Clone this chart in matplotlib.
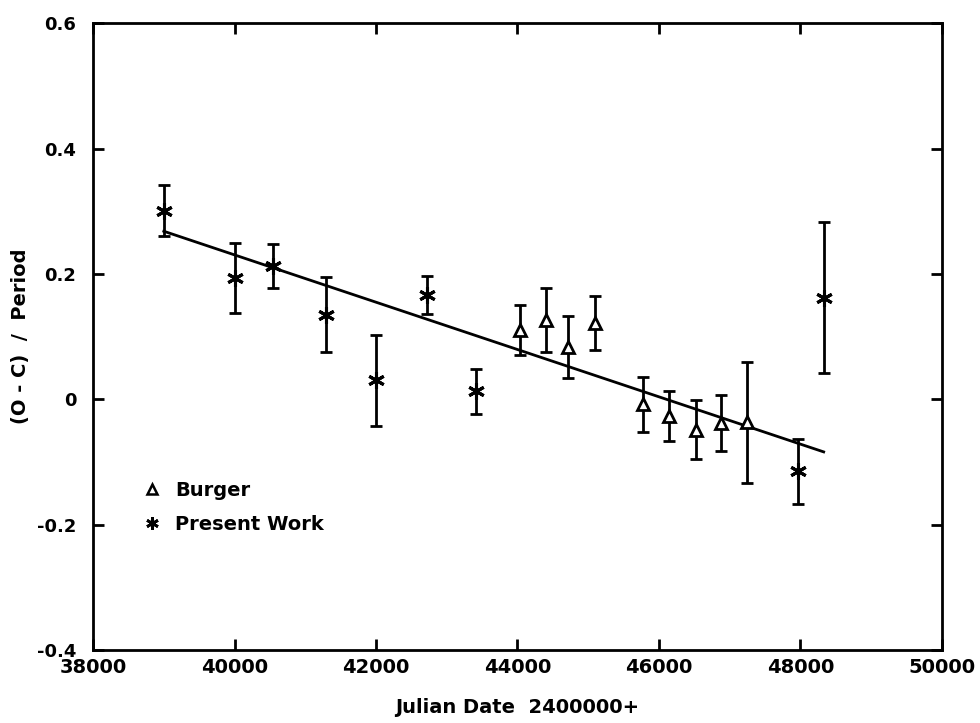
import matplotlib
matplotlib.use("Agg")
import matplotlib.pyplot as plt
from matplotlib.lines import Line2D

plt.rcParams["font.family"] = ["DejaVu Sans"]
plt.rcParams["font.weight"] = "bold"

# Present Work (asterisks)
pw_jd = [39000, 40000, 40550, 41300, 42000, 42720, 43420, 47960, 48330]
pw_oc = [0.301, 0.194, 0.212, 0.135, 0.030, 0.166, 0.013, -0.115, 0.162]
pw_err = [0.040, 0.056, 0.035, 0.060, 0.073, 0.030, 0.036, 0.052, 0.120]

# Burger (open triangles)
bu_jd = [44030, 44410, 44720, 45090, 45780, 46150, 46530, 46880, 47240]
bu_oc = [0.111, 0.127, 0.083, 0.121, -0.008, -0.027, -0.049, -0.038, -0.037]
bu_err = [0.040, 0.051, 0.049, 0.043, 0.044, 0.040, 0.047, 0.044, 0.096]

# linear fit
fit_jd = [39000, 48330]
fit_oc = [0.268, -0.084]

ast = (6, 2, 0)

fig = plt.figure(figsize=(9.8, 7.23), dpi=100)
ax = fig.add_axes([0.095, 0.101, 0.866, 0.867])

ax.plot(fit_jd, fit_oc, color="black", lw=2)

ax.errorbar(bu_jd, bu_oc, yerr=bu_err, fmt="^", mfc="white", mec="black",
            ms=9, mew=2, ecolor="black", elinewidth=2, capsize=4,
            capthick=2)
ax.errorbar(pw_jd, pw_oc, yerr=pw_err, fmt="none", ecolor="black",
            elinewidth=2, capsize=4, capthick=2)
ax.plot(pw_jd, pw_oc, ls="none", marker=ast, ms=12, mew=2.2, color="black")

ax.set_xlim(38000, 50000)
ax.set_ylim(-0.4, 0.6)
ax.set_xticks([38000, 40000, 42000, 44000, 46000, 48000, 50000])
ax.set_yticks([-0.4, -0.2, 0, 0.2, 0.4, 0.6])
ax.set_yticklabels(["-0.4", "-0.2", "0", "0.2", "0.4", "0.6"])

for s in ax.spines.values():
    s.set_linewidth(2)
ax.tick_params(direction="in", length=8, width=2, top=True, right=True)
ax.tick_params(axis="x", pad=6, labelsize=14)
ax.tick_params(axis="y", pad=12, labelsize=13)
for lab in ax.get_xticklabels() + ax.get_yticklabels():
    lab.set_fontweight("bold")

ax.set_xlabel("Julian Date  2400000+", fontsize=14, fontweight="bold",
              labelpad=15)
ax.set_ylabel("(O - C)  /  Period", fontsize=14, fontweight="bold")
ax.yaxis.set_label_coords(-0.074, 0.5)

handles = [
    Line2D([], [], ls="none", marker="^", mfc="white", mec="black", ms=7,
           mew=1.8),
    Line2D([], [], ls="none", marker=ast, color="black", ms=9, mew=2),
]
leg = ax.legend(handles, ["Burger", "Present Work"], loc="upper left",
                bbox_to_anchor=(0.037, 0.297), frameon=False, fontsize=14,
                handlelength=1.0, handletextpad=0.7, labelspacing=0.75)
for t in leg.get_texts():
    t.set_fontweight("bold")

fig.savefig("out.png", dpi=100)
